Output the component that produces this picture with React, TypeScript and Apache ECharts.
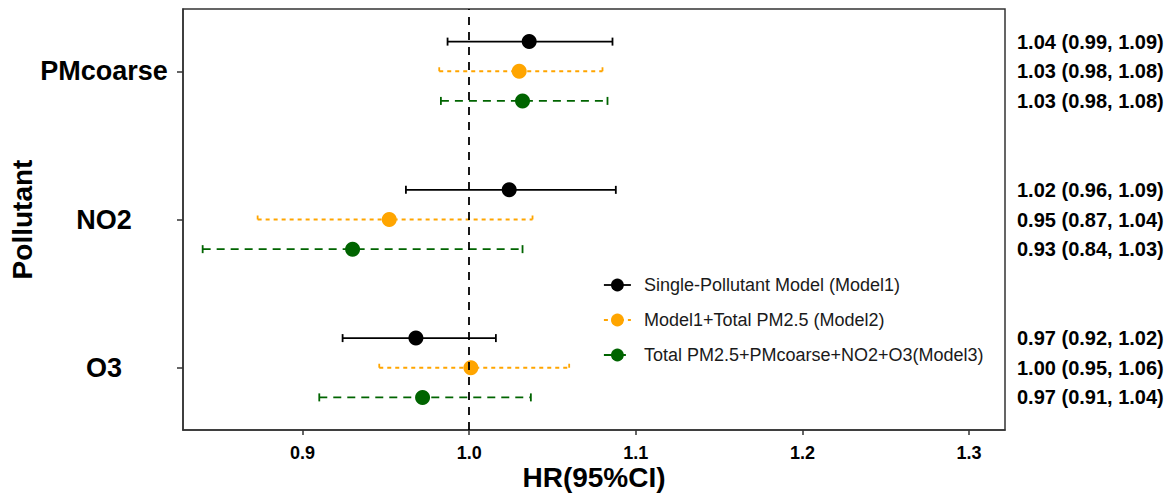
import React, { useEffect, useRef } from "react";
import * as echarts from "echarts";

// Pollutants from top to bottom
const categories = ["PMcoarse", "NO2", "O3"];

// Model names
const models = [
  "Single-Pollutant Model (Model1)",
  "Model1+Total PM2.5 (Model2)",
  "Total PM2.5+PMcoarse+NO2+O3(Model3)",
];

// Hazard ratios and 95% CI bounds, one entry per pollutant
const model1HR = [1.036, 1.024, 0.968];
const model1Lo = [0.987, 0.962, 0.924];
const model1Hi = [1.086, 1.088, 1.016];

const model2HR = [1.03, 0.952, 1.001];
const model2Lo = [0.982, 0.873, 0.946];
const model2Hi = [1.08, 1.038, 1.06];

const model3HR = [1.032, 0.93, 0.972];
const model3Lo = [0.983, 0.84, 0.91];
const model3Hi = [1.083, 1.032, 1.037];

const xTicks = [0.9, 1.0, 1.1, 1.2, 1.3];

const modelColors = ["#000000", "#FFA500", "#006400"];
const modelDash: (number[] | "solid")[] = ["solid", [4, 4], [8, 6]];

const FONT = "'Liberation Sans', Arial, Helvetica, sans-serif";

const hrs = [model1HR, model2HR, model3HR];
const los = [model1Lo, model2Lo, model3Lo];
const his = [model1Hi, model2Hi, model3Hi];

// vertical position of a pollutant row, with the three models stacked around it
const rowY = (i: number, j: number) => categories.length - i + (1 - j) * 0.2;

export default function App() {
  const ref = useRef<HTMLDivElement>(null);

  useEffect(() => {
    document.body.style.margin = "0";
    if (!ref.current) return;
    const chart = echarts.init(ref.current, null, { renderer: "svg" });

    const errorBarSeries = models.map((_, j) => ({
      type: "custom",
      z: 1,
      clip: false,
      encode: { x: [0, 1], y: 2 },
      data: categories.map((_, i) => [los[j][i], his[j][i], rowY(i, j)]),
      renderItem: (params: any, api: any) => {
        const y = api.value(2);
        const p1 = api.coord([api.value(0), y]);
        const p2 = api.coord([api.value(1), y]);
        const dash = modelDash[j];
        const style = {
          stroke: modelColors[j],
          lineWidth: 1.8,
          lineDash: dash === "solid" ? null : dash,
          fill: "none",
        };
        return {
          type: "group",
          children: [
            { type: "line", shape: { x1: p1[0], y1: p1[1], x2: p2[0], y2: p2[1] }, style },
            { type: "line", shape: { x1: p1[0], y1: p1[1] - 4, x2: p1[0], y2: p1[1] + 4 }, style },
            { type: "line", shape: { x1: p2[0], y1: p2[1] - 4, x2: p2[0], y2: p2[1] + 4 }, style },
          ],
        };
      },
    }));

    const pointSeries = models.map((name, j) => ({
      type: "line",
      name,
      z: 3,
      symbol: "circle",
      symbolSize: 15,
      itemStyle: { color: modelColors[j] },
      lineStyle: { width: 0, opacity: 0 },
      data: categories.map((_, i) => [hrs[j][i], rowY(i, j)]),
    }));

    // HR (95% CI) text column at the right of the panel
    const labelRows: number[][] = [];
    categories.forEach((_, i) =>
      models.forEach((_, j) => labelRows.push([hrs[j][i], los[j][i], his[j][i], rowY(i, j)]))
    );
    const labelSeries = {
      type: "custom",
      z: 4,
      clip: false,
      silent: true,
      encode: { x: 0, y: 3 },
      data: labelRows,
      renderItem: (params: any, api: any) => {
        const cs = params.coordSys;
        const y = api.coord([1, api.value(3)])[1];
        const txt = `${api.value(0).toFixed(2)} (${api.value(1).toFixed(2)}, ${api.value(2).toFixed(2)})`;
        return {
          type: "text",
          x: cs.x + cs.width + 12,
          y,
          style: {
            text: txt,
            fill: "#000",
            font: `bold 20px ${FONT}`,
            textAlign: "left",
            textVerticalAlign: "middle",
          },
        };
      },
    };

    const refLine = {
      type: "line",
      z: 2,
      data: [],
      markLine: {
        silent: true,
        symbol: "none",
        label: { show: false },
        lineStyle: { color: "#000", type: [8, 7], width: 1.8 },
        data: [{ xAxis: 1 }],
      },
    };

    chart.setOption({
      animation: false,
      textStyle: { fontFamily: FONT },
      grid: {
        left: 183,
        right: 168,
        top: 9,
        bottom: 65,
        outerBoundsMode: "none",
        show: true,
        borderColor: "#333",
        borderWidth: 1.5,
      },
      legend: {
        data: models.map((name, j) => ({
          name,
          lineStyle: {
            color: modelColors[j],
            width: 1.8,
            opacity: 1,
            type: modelDash[j],
          },
        })),
        orient: "vertical",
        left: 598,
        top: 271,
        itemWidth: 27,
        itemHeight: 16,
        itemGap: 17,
        textStyle: { fontSize: 18, color: "#1a1a1a", fontFamily: FONT, padding: [0, 0, 0, 8] },
      },
      xAxis: {
        type: "value",
        min: 0.8282,
        max: 1.3216,
        splitLine: { show: false },
        axisLine: { show: true, onZero: false, lineStyle: { color: "#333", width: 1.5 } },
        axisTick: { show: true, length: 5, customValues: xTicks, lineStyle: { color: "#333", width: 1.5 } },
        axisLabel: {
          customValues: xTicks,
          formatter: (v: number) => v.toFixed(1),
          fontSize: 18,
          fontWeight: "bold",
          color: "#000",
          margin: 14,
        },
        name: "HR(95%CI)",
        nameLocation: "middle",
        nameGap: 33,
        nameMoveOverlap: false,
        nameTextStyle: { fontSize: 28, fontWeight: "bold", color: "#000" },
      },
      yAxis: {
        type: "value",
        min: 0.58,
        max: 3.42,
        splitLine: { show: false },
        axisLine: { show: true, onZero: false, lineStyle: { color: "#333", width: 1.5 } },
        axisTick: { show: true, length: 6, customValues: [1, 2, 3], lineStyle: { color: "#333", width: 1.5 } },
        axisLabel: {
          customValues: [1, 2, 3],
          formatter: (v: number) => categories[categories.length - Math.round(v)] ?? "",
          align: "center",
          margin: 79,
          fontSize: 27,
          fontWeight: "bold",
          color: "#000",
        },
        name: "Pollutant",
        nameLocation: "middle",
        nameRotate: 90,
        nameGap: 147,
        nameMoveOverlap: false,
        nameTextStyle: { fontSize: 28, fontWeight: "bold", color: "#000" },
      },
      series: [...errorBarSeries, refLine, ...pointSeries, labelSeries],
    });

    return () => chart.dispose();
  }, []);

  return <div ref={ref} style={{ width: 1173, height: 495 }} />;
}
